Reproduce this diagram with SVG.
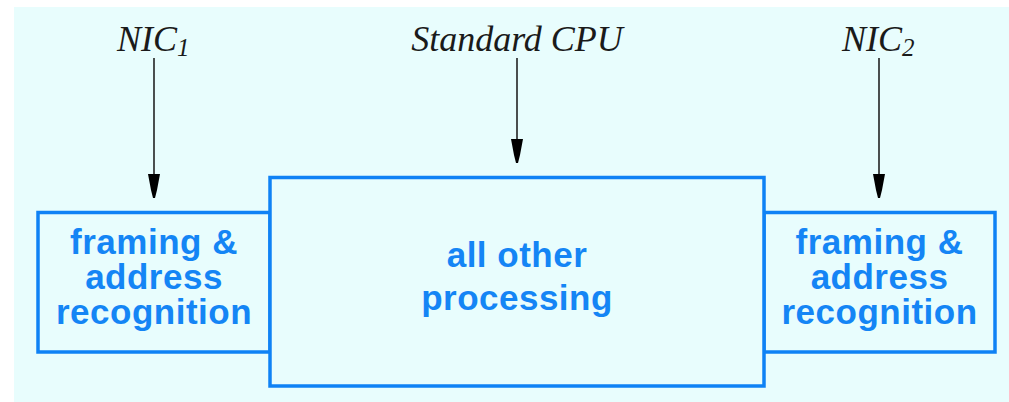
<svg xmlns="http://www.w3.org/2000/svg" width="1009" height="402" viewBox="0 0 1009 402">
  <defs>
    <style>
      .bg { fill: #e8fdfd; }
      .box { fill: #e8fdfd; stroke: #0f82f5; stroke-width: 3.5; }
      .lbl { font-family: "Liberation Sans", Arial, sans-serif; font-weight: bold; font-size: 35px; letter-spacing: 0.5px; fill: #1485f5; text-anchor: middle; }
      .cap { font-family: "Liberation Serif", "Times New Roman", serif; font-style: italic; font-size: 36px; fill: #1a1a1a; }
      .sub { font-size: 25px; }
      .wire { stroke: #222; stroke-width: 1.6; fill: none; }
      .head { fill: #000; }
    </style>
  </defs>
  <rect class="bg" x="14" y="7" width="995" height="395"/>

  <g id="connectors">
    <line class="wire" x1="154" y1="58" x2="154" y2="178"/>
    <path class="head" d="M148,174 L160,174 L158.5,182 L157,190 L155,198 L153,198 L151,190 L149.5,182 Z"/>
    <line class="wire" x1="517" y1="58" x2="517" y2="143"/>
    <path class="head" d="M511,139 L523,139 L521.5,147 L520,155 L518,163 L516,163 L514,155 L512.5,147 Z"/>
    <line class="wire" x1="879" y1="58" x2="879" y2="178"/>
    <path class="head" d="M873,174 L885,174 L883.5,182 L882,190 L880,198 L878,198 L876,190 L874.5,182 Z"/>
  </g>

  <g id="label-nic1">
    <text class="cap" x="117" y="51">NIC<tspan class="sub" dy="5">1</tspan></text>
  </g>
  <g id="label-cpu">
    <text class="cap" x="517" y="51" text-anchor="middle">Standard CPU</text>
  </g>
  <g id="label-nic2">
    <text class="cap" x="842" y="51">NIC<tspan class="sub" dy="5">2</tspan></text>
  </g>

  <g id="node-left">
    <rect class="box" x="38" y="212.5" width="232" height="139.5"/>
    <text class="lbl" x="154" y="254">framing &amp;</text>
    <text class="lbl" x="154" y="289">address</text>
    <text class="lbl" x="154" y="324">recognition</text>
  </g>

  <g id="node-right">
    <rect class="box" x="764" y="212.5" width="231" height="139.5"/>
    <text class="lbl" x="879.5" y="254">framing &amp;</text>
    <text class="lbl" x="879.5" y="289">address</text>
    <text class="lbl" x="879.5" y="324">recognition</text>
  </g>

  <g id="node-center">
    <rect class="box" x="270" y="177.5" width="494" height="208.5"/>
    <text class="lbl" x="517" y="267">all other</text>
    <text class="lbl" x="517" y="310">processing</text>
  </g>
</svg>
